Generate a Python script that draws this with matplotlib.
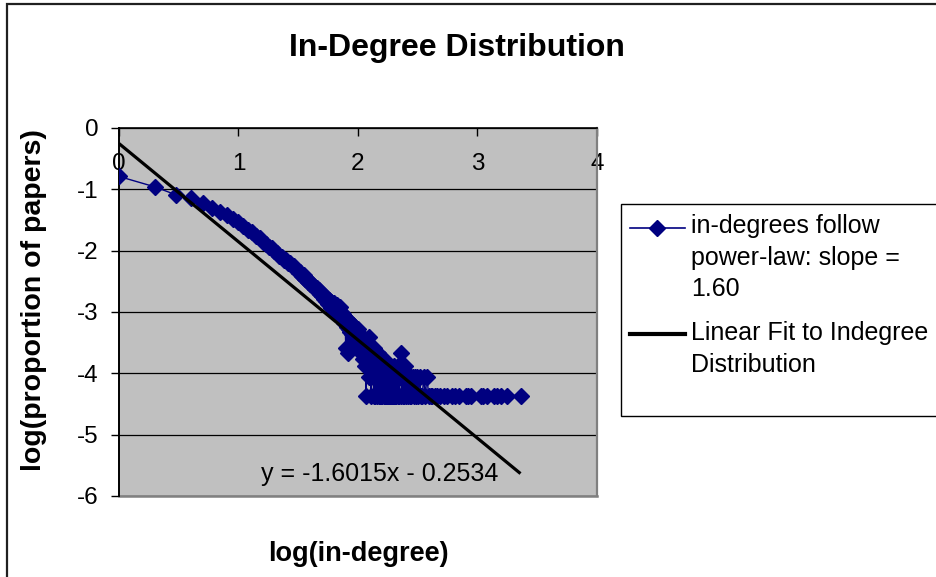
import matplotlib
matplotlib.use("Agg")
import matplotlib.pyplot as plt
import numpy as np
from matplotlib.patches import Rectangle
from matplotlib.lines import Line2D

plt.rcParams['font.family'] = ['Liberation Sans', 'DejaVu Sans']
plt.rcParams['axes.unicode_minus'] = False

# ---------------- data ----------------
TITLE = "In-Degree Distribution"
X_LABEL = "log(in-degree)"
Y_LABEL = "log(proportion of papers)"
SERIES_LABEL = ["in-degrees follow", "power-law: slope =", "1.60"]
FIT_LABEL = ["Linear Fit to Indegree", "Distribution"]
EQUATION = "y = -1.6015x - 0.2534"
FIT_SLOPE = -1.6015
FIT_INTERCEPT = -0.2534
N_PAPERS = 23000

in_degree = [
    1, 2, 3, 4, 5, 6, 7, 8, 9, 10,
    11, 12, 13, 14, 15, 16, 17, 18, 19, 20,
    21, 22, 23, 24, 25, 26, 27, 28, 29, 30,
    31, 32, 33, 34, 35, 36, 37, 38, 39, 40,
    41, 42, 43, 44, 45, 46, 47, 48, 49, 50,
    51, 52, 53, 54, 55, 56, 57, 58, 59, 60,
    61, 62, 63, 64, 65, 66, 67, 68, 69, 70,
    71, 72, 73, 74, 75, 76, 77, 78, 79, 80,
    81, 82, 83, 84, 85, 86, 87, 88, 89, 90,
    91, 92, 93, 94, 95, 96, 97, 98, 99, 100,
    101, 102, 103, 104, 105, 106, 107, 108, 109, 110,
    111, 112, 113, 114, 115, 116, 117, 118, 119, 120,
    121, 122, 123, 124, 125, 126, 127, 128, 129, 130,
    131, 132, 133, 134, 135, 136, 137, 138, 139, 140,
    141, 142, 143, 144, 145, 146, 147, 148, 149, 150,
    151, 152, 153, 154, 155, 156, 157, 158, 159, 160,
    162, 163, 164, 166, 167, 168, 170, 171, 173, 174,
    176, 177, 179, 181, 182, 184, 186, 188, 190, 191,
    193, 195, 197, 199, 202, 204, 207, 209, 212, 215,
    218, 221, 224, 228, 231, 234, 237, 240, 244, 248,
    252, 256, 260, 265, 270, 275, 280, 286, 292, 298,
    305, 312, 320, 328, 336, 345, 355, 365, 378, 390,
    405, 420, 440, 460, 490, 525, 560, 615, 650, 705,
    795, 840, 890, 1070, 1120, 1200, 1380, 1450, 1580, 1780,
    2290,
]
paper_count = [
    3730, 2520, 1870, 1660, 1380, 1150, 980, 870, 760, 680,
    590, 505, 460, 398, 366, 322, 301, 266, 251, 224,
    213, 190, 184, 165, 161, 145, 143, 128, 127, 114,
    113, 101, 102, 90, 91, 80, 82, 71, 74, 65,
    66, 60, 61, 55, 56, 50, 52, 45, 47, 42,
    44, 38, 42, 35, 39, 31, 36, 30, 33, 27,
    31, 26, 32, 23, 27, 24, 30, 20, 25, 21,
    28, 18, 22, 17, 21, 15, 20, 16, 6, 18,
    13, 5, 17, 12, 16, 11, 15, 13, 10, 14,
    9, 12, 13, 8, 12, 10, 7, 11, 9, 12,
    9, 7, 10, 6, 8, 5, 9, 6, 7, 4,
    8, 5, 7, 3, 6, 8, 1, 5, 6, 3,
    7, 4, 9, 2, 5, 3, 6, 1, 4, 5,
    3, 5, 2, 4, 1, 6, 3, 2, 4, 1,
    5, 3, 2, 4, 1, 3, 5, 2, 1, 4,
    2, 3, 1, 4, 2, 1, 3, 2, 4, 1,
    3, 2, 1, 4, 2, 1, 3, 1, 2, 1,
    3, 1, 2, 1, 2, 1, 3, 1, 2, 1,
    2, 1, 2, 1, 3, 1, 2, 1, 2, 1,
    3, 1, 2, 5, 1, 2, 1, 2, 1, 3,
    1, 2, 1, 2, 1, 2, 1, 2, 1, 2,
    1, 2, 1, 2, 1, 1, 2, 1, 2, 1,
    1, 1, 1, 1, 1, 1, 1, 1, 1, 1,
    1, 1, 1, 1, 1, 1, 1, 1, 1, 1,
    1,
]

x_ticks = [0, 1, 2, 3, 4]
y_ticks = [0, -1, -2, -3, -4, -5, -6]

# ---------------- figure ----------------
W, H = 937, 577
fig = plt.figure(figsize=(W / 100, H / 100), dpi=100)
fig.patch.set_facecolor('white')

def fx(px):
    return px / W

def fy(py):
    return 1 - py / H

# outer chart border
fig.patches.append(Rectangle((fx(7), fy(640)), fx(1000), fy(4) - fy(640),
                             transform=fig.transFigure, fill=False,
                             edgecolor='#202020', lw=1.6, clip_on=False))

ax = fig.add_axes([fx(119), fy(496), fx(597) - fx(119), fy(128) - fy(496)])
ax.set_facecolor('#C0C0C0')
ax.set_xlim(0, 4)
ax.set_ylim(-6, 0)

log_k = np.log10(np.array(in_degree, dtype=float))
log_p = np.log10(np.array(paper_count, dtype=float) / N_PAPERS)

ax.plot(log_k, log_p, color='#000080', lw=1.0, marker='D', ms=8.5,
        mfc='#000080', mec='#000080', zorder=3)

x_end = log_k.max()
ax.plot([0, x_end], [FIT_INTERCEPT, FIT_INTERCEPT + FIT_SLOPE * x_end],
        color='black', lw=2.3, zorder=4, solid_capstyle='butt')

ax.text((380 - 119) / 478 * 4, -(474 - 128) / 368 * 6, EQUATION,
        ha='center', va='center', fontsize=18, color='black', zorder=5)

# axes styling
ax.set_xticks(x_ticks)
ax.set_yticks(y_ticks)
ax.yaxis.grid(True, color='black', lw=0.9)
ax.set_axisbelow(True)
ax.spines['top'].set_visible(False)
ax.spines['bottom'].set_position(('data', 0))
ax.spines['bottom'].set_color('black')
ax.spines['bottom'].set_linewidth(1.2)
ax.spines['left'].set_color('black')
ax.spines['left'].set_linewidth(1.4)
ax.spines['right'].set_color('#808080')
ax.spines['right'].set_linewidth(1.6)
ax.axhline(-6, color='#808080', lw=1.8, clip_on=False, zorder=2)

ax.tick_params(axis='x', direction='out', length=6, width=1, pad=12,
               labelsize=17.5)
ax.tick_params(axis='y', direction='out', length=6, width=1, pad=9,
               labelsize=17.5)

ax.set_xlabel(X_LABEL, fontsize=19.5, fontweight='bold')
ax.xaxis.set_label_coords(0.5, (496 - 541) / 368)
ax.set_ylabel(Y_LABEL, fontsize=20.5, fontweight='bold')
ax.yaxis.set_label_coords((47 - 119) / 478, (496 - 300) / 368)

fig.text(fx(457), fy(48), TITLE, ha='center', va='center',
         fontsize=23, fontweight='bold')

# legend (Excel style, drawn in figure space)
fig.patches.append(Rectangle((fx(621), fy(416)), fx(400), fy(204) - fy(416),
                             transform=fig.transFigure, facecolor='white',
                             edgecolor='black', lw=1.0, clip_on=False))
fig.lines.append(Line2D([fx(630), fx(685)], [fy(228), fy(228)],
                        transform=fig.transFigure, color='#000080', lw=1.2))
fig.lines.append(Line2D([fx(657)], [fy(228)], transform=fig.transFigure,
                        color='#000080', marker='D', ms=8.5, lw=0))
fig.lines.append(Line2D([fx(630), fx(685)], [fy(334), fy(334)],
                        transform=fig.transFigure, color='black', lw=3.0))
for i, line in enumerate(SERIES_LABEL):
    fig.text(fx(691), fy(226 + 31.5 * i), line, ha='left', va='center',
             fontsize=18)
for i, line in enumerate(FIT_LABEL):
    fig.text(fx(691), fy(333 + 31.5 * i), line, ha='left', va='center',
             fontsize=18)

fig.savefig('out.png', dpi=100)
